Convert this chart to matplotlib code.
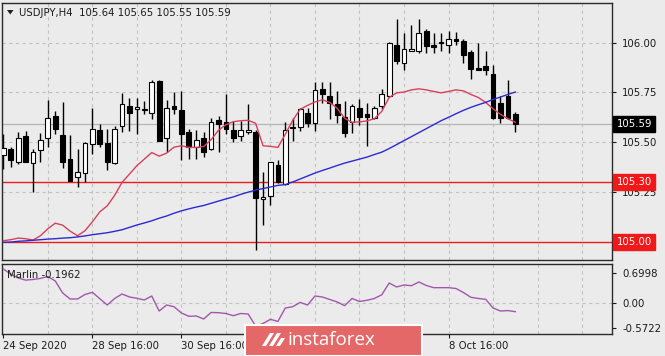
import matplotlib
matplotlib.use('Agg')
import matplotlib.pyplot as plt
from matplotlib.patches import Rectangle, Polygon
import matplotlib.transforms as mtransforms

# ---------------- data ----------------
opens = [105.435, 105.465, 105.398, 105.530, 105.395, 105.460, 105.520, 105.632, 105.535, 105.415,
         105.323, 105.345, 105.490, 105.562, 105.498, 105.395, 105.582, 105.682, 105.665, 105.660,
         105.648, 105.810, 105.523, 105.682, 105.662, 105.552, 105.478, 105.522, 105.465, 105.612,
         105.603, 105.562, 105.532, 105.550, 105.553, 105.213, 105.228, 105.385, 105.290, 105.572,
         105.578, 105.648, 105.598, 105.768, 105.732, 105.690, 105.628, 105.602, 105.670, 105.640,
         105.622, 105.682, 105.730, 105.990, 105.898, 105.958, 105.957, 106.057, 105.990, 106.000,
         105.990, 106.018, 106.010, 105.953, 105.873, 105.882, 105.845, 105.698, 105.732, 105.640]
highs = [105.540, 105.475, 105.550, 105.555, 105.465, 105.545, 105.710, 105.655, 105.700, 105.535,
         105.465, 105.500, 105.673, 105.590, 105.565, 105.582, 105.748, 105.720, 105.720, 105.707,
         105.815, 105.815, 105.710, 105.750, 105.755, 105.565, 105.560, 105.552, 105.623, 105.632,
         105.740, 105.607, 105.607, 105.690, 105.560, 105.352, 105.402, 105.413, 105.600, 105.622,
         105.673, 105.673, 105.800, 105.800, 105.800, 105.757, 105.707, 105.690, 105.718, 105.698,
         105.682, 105.765, 106.005, 106.118, 106.050, 106.090, 106.118, 106.070, 106.048, 106.048,
         106.057, 106.052, 106.020, 105.965, 106.000, 105.960, 105.890, 105.732, 105.812, 105.650]
lows = [105.365, 105.375, 105.390, 105.398, 105.250, 105.400, 105.474, 105.540, 105.368, 105.305,
        105.273, 105.300, 105.440, 105.474, 105.362, 105.390, 105.552, 105.556, 105.540, 105.640,
        105.618, 105.505, 105.452, 105.640, 105.412, 105.418, 105.418, 105.428, 105.462, 105.452,
        105.540, 105.502, 105.507, 105.540, 104.960, 105.082, 105.182, 105.295, 105.285, 105.507,
        105.557, 105.578, 105.557, 105.698, 105.618, 105.598, 105.528, 105.548, 105.585, 105.482,
        105.615, 105.665, 105.725, 105.895, 105.862, 105.957, 105.948, 105.948, 105.948, 105.957,
        105.948, 105.990, 105.898, 105.818, 105.862, 105.840, 105.618, 105.598, 105.618, 105.550]
closes = [105.470, 105.410, 105.523, 105.400, 105.450, 105.510, 105.620, 105.568, 105.400, 105.307,
          105.350, 105.498, 105.568, 105.490, 105.402, 105.568, 105.690, 105.645, 105.675, 105.665,
          105.800, 105.507, 105.673, 105.668, 105.540, 105.478, 105.510, 105.452, 105.603, 105.593,
          105.565, 105.520, 105.562, 105.560, 105.218, 105.225, 105.398, 105.298, 105.562, 105.575,
          105.665, 105.595, 105.760, 105.740, 105.698, 105.635, 105.548, 105.682, 105.628, 105.628,
          105.672, 105.740, 106.000, 105.907, 105.968, 105.968, 106.048, 105.985, 105.978, 106.002,
          106.018, 106.008, 105.940, 105.868, 105.865, 105.862, 105.623, 105.623, 105.623, 105.590]
ma_fast = [105.005, 105.010, 105.018, 105.015, 105.008, 105.030, 105.065, 105.093, 105.083, 105.053,
           105.030, 105.055, 105.100, 105.150, 105.180, 105.233, 105.298, 105.340, 105.382, 105.415,
           105.448, 105.430, 105.445, 105.475, 105.482, 105.474, 105.474, 105.478, 105.513, 105.560,
           105.588, 105.603, 105.608, 105.610, 105.595, 105.482, 105.479, 105.474, 105.540, 105.610,
           105.665, 105.685, 105.702, 105.713, 105.700, 105.670, 105.620, 105.600, 105.602, 105.607,
           105.618, 105.655, 105.725, 105.748, 105.752, 105.763, 105.768, 105.763, 105.755, 105.748,
           105.755, 105.763, 105.758, 105.740, 105.725, 105.700, 105.668, 105.640, 105.618, 105.600]
ma_slow = [104.997, 104.998, 105.002, 105.004, 105.007, 105.010, 105.013, 105.015, 105.018, 105.020,
           105.024, 105.029, 105.035, 105.040, 105.045, 105.052, 105.060, 105.072, 105.084, 105.094,
           105.105, 105.118, 105.129, 105.143, 105.155, 105.165, 105.174, 105.182, 105.193, 105.204,
           105.215, 105.225, 105.238, 105.249, 105.259, 105.267, 105.275, 105.283, 105.287, 105.300,
           105.315, 105.330, 105.345, 105.358, 105.370, 105.383, 105.395, 105.405, 105.415, 105.425,
           105.438, 105.450, 105.468, 105.488, 105.508, 105.528, 105.548, 105.568, 105.588, 105.608,
           105.625, 105.643, 105.660, 105.675, 105.688, 105.700, 105.715, 105.727, 105.740, 105.752]
marlin = [0.80, 0.68, 0.59, 0.54, 0.555, 0.58, 0.625, 0.52, 0.24, 0.10,
          0.10, 0.205, 0.256, 0.107, -0.04, 0.112, 0.217, 0.147, 0.117, 0.077,
          0.17, -0.18, -0.04, -0.08, -0.226, -0.303, -0.296, -0.366, -0.214, -0.22,
          -0.238, -0.289, -0.238, -0.25, -0.53, -0.47, -0.373, -0.424, -0.11, -0.08,
          0.02, -0.04, 0.17, 0.147, 0.089, 0.03, -0.056, 0.112, 0.042, 0.07,
          0.112, 0.198, 0.473, 0.38, 0.427, 0.41, 0.497, 0.415, 0.364, 0.364,
          0.364, 0.345, 0.252, 0.14, 0.112, 0.093, -0.11, -0.18, -0.17, -0.1962]
level_lines = [105.30, 105.00]
level_labels = ['105.30', '105.00']
bid_price = 105.59
bid_label = '105.59'
price_ticks = [105.25, 105.50, 105.75, 106.00]
price_tick_labels = ['105.25', '105.50', '105.75', '106.00']
marlin_ticks = [-0.5722, 0.00, 0.6998]
marlin_tick_labels = ['-0.5722', '0.00', '0.6998']
xtick_idx = [0, 12, 24, 36, 48, 60]
# labels at index 36 and 48 are hidden beneath the logo in the reference
xtick_labels = ['24 Sep 2020', '28 Sep 16:00', '30 Sep 16:00', '', '', '8 Oct 16:00']
title_text = 'USDJPY,H4  105.64 105.65 105.55 105.59'
marlin_text = 'Marlin -0.1962'

# ---------------- figure ----------------
W, H = 665, 356
BG = '#ebebeb'
plt.rcParams['font.family'] = ['DejaVu Sans']
fig = plt.figure(figsize=(W / 100, H / 100), dpi=100, facecolor=BG)

def fx(px):
    return px / W

def fy(py):
    return 1 - py / H

left, right = 2, 612.3
ax = fig.add_axes([fx(left), fy(260), fx(right - left), (260 - 2.7) / H])
ax2 = fig.add_axes([fx(left), fy(334), fx(right - left), (334 - 264.3) / H])

XMIN, XMAX = -0.18, 82.07
FS = 7.3
TXT = '#1a1a1a'
GRID = '#c2c2c2'

for a in (ax, ax2):
    a.set_facecolor(BG)
    a.set_xlim(XMIN, XMAX)
    for s in a.spines.values():
        s.set_color('#2a2a2a')
        s.set_linewidth(1.0)
    for gx in range(6, 84, 6):
        a.axvline(gx, color=GRID, lw=0.8, dashes=(3, 3), zorder=0.5)

ax.set_ylim(104.908, 106.201)

# horizontal grid
for p in price_ticks:
    ax.axhline(p, color=GRID, lw=0.8, dashes=(3, 3), zorder=0.5)

# bid line
ax.axhline(bid_price, color='#b4b4b4', lw=0.9, zorder=0.8)

# level lines
for lv in level_lines:
    ax.axhline(lv, color='#ee1c1c', lw=1.0, zorder=1)

# candles
n = len(opens)
xs = list(range(n))
ax.vlines(xs, lows, highs, color='black', lw=1.0, zorder=2)
bw = 0.64
min_h = 0.0022
for i in range(n):
    o, c = opens[i], closes[i]
    bot = min(o, c)
    h = abs(c - o)
    if h < min_h:
        bot = (o + c) / 2 - min_h / 2
        h = min_h
    fc = 'white' if c >= o else 'black'
    ax.bar(i, h, bottom=bot, width=bw, facecolor=fc, edgecolor='black', linewidth=0.8, zorder=3)

# moving averages
ax.plot(xs, ma_fast, color='#d8405a', lw=1.0, zorder=4)
ax.plot(xs, ma_slow, color='#2b2bd0', lw=1.0, zorder=4)

# y axis on right
ax.yaxis.tick_right()
ax.set_yticks(price_ticks)
ax.set_yticklabels(price_tick_labels)
ax.tick_params(axis='y', direction='out', length=3, width=0.8, pad=4, labelsize=FS,
               colors=TXT)
ax.set_xticks([])

# price boxes
btrans = mtransforms.blended_transform_factory(ax.transAxes, ax.transData)
xbox = (616.5 - left) / (right - left)
ax.text(xbox, bid_price, bid_label, transform=btrans, fontsize=FS, color='white',
        va='center', ha='left', zorder=10, clip_on=False,
        bbox=dict(boxstyle='square,pad=0.3', facecolor='black', edgecolor='black'))
for lv, lab in zip(level_lines, level_labels):
    ax.text(xbox, lv, lab, transform=btrans, fontsize=FS, color='white',
            va='center', ha='left', zorder=10, clip_on=False,
            bbox=dict(boxstyle='square,pad=0.3', facecolor='#f01818', edgecolor='#f01818'))

# indicator panel
ax2.set_ylim(-0.716, 0.909)
ax2.axhline(0.0, color=GRID, lw=0.8, dashes=(3, 3), zorder=0.5)
ax2.plot(xs, marlin, color='#a257ad', lw=1.0, zorder=3)
ax2.yaxis.tick_right()
ax2.set_yticks(marlin_ticks)
ax2.set_yticklabels(marlin_tick_labels)
ax2.tick_params(axis='y', direction='out', length=3, width=0.8, pad=4, labelsize=FS, colors=TXT)
ax2.set_xticks(xtick_idx)
ax2.set_xticklabels(xtick_labels)
ax2.tick_params(axis='x', direction='out', length=3, width=0.8, pad=2, labelsize=FS, colors=TXT)
for lab in ax2.get_xticklabels():
    lab.set_horizontalalignment('left')
ax2.text((7 - left) / (right - left), (334 - 275) / (334 - 264.3), marlin_text,
         transform=ax2.transAxes, fontsize=FS, color=TXT, va='center', ha='left', zorder=6)

# title
fig.patches.append(Polygon([[fx(7), fy(10)], [fx(13.5), fy(10)], [fx(10.25), fy(14.5)]],
                           closed=True, transform=fig.transFigure, facecolor='#202020',
                           edgecolor='none'))
fig.text(fx(19), fy(12.5), title_text, fontsize=FS, color=TXT, va='center', ha='left')

# logo overlay
logo = Rectangle((fx(245), 0), fx(422 - 245), (356 - 324.5) / H, transform=fig.transFigure,
                 facecolor='#e46868', edgecolor='white', linewidth=1.5, zorder=20)
fig.patches.append(logo)
icon_shapes = [
    [[262, 346], [270, 333], [274, 333], [266, 346]],
    [[269, 346], [277, 333], [281, 333], [273, 346]],
    [[276, 346], [281, 338], [285, 338], [280, 346]],
]
for shp in icon_shapes:
    fig.patches.append(Polygon([[fx(px), fy(py)] for px, py in shp], closed=True,
                               transform=fig.transFigure, facecolor='white',
                               edgecolor='none', zorder=21))
fig.text(fx(331.5), fy(340), 'instaforex', fontsize=13.5, color='white', va='center',
         ha='center', family=['Open Sans', 'DejaVu Sans'], zorder=22)

fig.savefig('out.png', dpi=100, facecolor=BG)
